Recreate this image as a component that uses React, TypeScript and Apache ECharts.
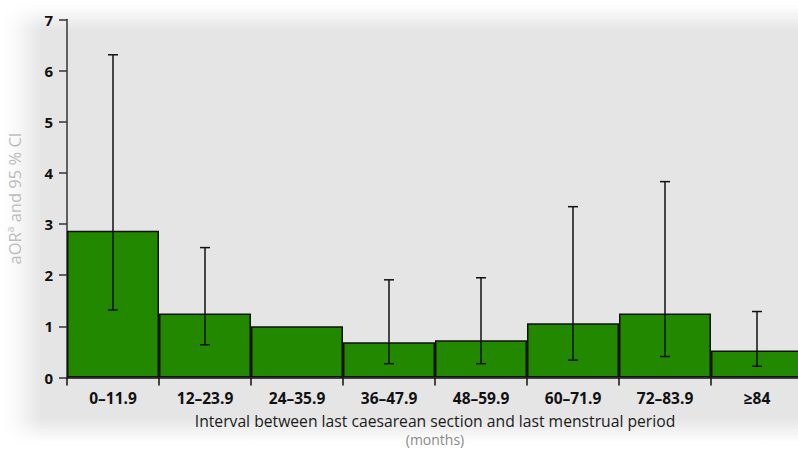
import React, { useEffect, useRef } from "react";
import * as echarts from "echarts";

// Interval categories (months) and adjusted odds ratios with 95 % CI
const categories = ["0–11.9", "12–23.9", "24–35.9", "36–47.9", "48–59.9", "60–71.9", "72–83.9", "≥84"];
const aor = [2.87, 1.25, 1.0, 0.69, 0.73, 1.06, 1.25, 0.53];
const ciLow: (number | null)[] = [1.32, 0.64, null, 0.27, 0.27, 0.34, 0.41, 0.22];
const ciHigh: (number | null)[] = [6.31, 2.54, null, 1.91, 1.95, 3.34, 3.83, 1.29];
const yTicks = [0, 1, 2, 3, 4, 5, 6, 7];

const FONT = "'Open Sans', 'Noto Sans', sans-serif";

export default function App() {
  const ref = useRef<HTMLDivElement>(null);

  useEffect(() => {
    if (!ref.current) return;
    const chart = echarts.init(ref.current, undefined, { renderer: "svg" });

    const errData = categories
      .map((_, i) => [i, ciLow[i], ciHigh[i]])
      .filter((d) => d[1] != null && d[2] != null);

    chart.setOption({
      animation: false,
      backgroundColor: "#e5e5e5",
      textStyle: { fontFamily: FONT },
      graphic: [
        {
          type: "rect",
          z: -10,
          silent: true,
          shape: { x: 0, y: 0, width: 798, height: 30 },
          style: {
            fill: new echarts.graphic.LinearGradient(0, 0, 0, 1, [
              { offset: 0, color: "rgba(255,255,255,1)" },
              { offset: 0.25, color: "rgba(255,255,255,0.9)" },
              { offset: 1, color: "rgba(255,255,255,0)" },
            ]),
          },
        },
        {
          type: "rect",
          z: -10,
          silent: true,
          shape: { x: 0, y: 0, width: 42, height: 450 },
          style: {
            fill: new echarts.graphic.LinearGradient(0, 0, 1, 0, [
              { offset: 0, color: "rgba(255,255,255,1)" },
              { offset: 0.3, color: "rgba(255,255,255,0.85)" },
              { offset: 1, color: "rgba(255,255,255,0)" },
            ]),
          },
        },
        {
          type: "rect",
          z: -10,
          silent: true,
          shape: { x: 0, y: 418, width: 798, height: 32 },
          style: {
            fill: new echarts.graphic.LinearGradient(0, 0, 0, 1, [
              { offset: 0, color: "rgba(255,255,255,0)" },
              { offset: 0.75, color: "rgba(255,255,255,0.95)" },
              { offset: 1, color: "rgba(255,255,255,1)" },
            ]),
          },
        },
      ],
      grid: {
        left: 67,
        top: 19.5,
        width: 736,
        height: 358,
        containLabel: false,
        outerBoundsMode: "none",
      },
      xAxis: {
        type: "category",
        data: categories,
        boundaryGap: true,
        axisLine: { show: true, lineStyle: { color: "#111", width: 1.5 } },
        axisTick: { show: true, alignWithLabel: false, length: 8, lineStyle: { color: "#111", width: 1.5 } },
        axisLabel: {
          color: "#111",
          fontSize: 15.5,
          fontWeight: "bold",
          fontFamily: FONT,
          margin: 12,
          interval: 0,
        },
        name:
          "{t|Interval between last caesarean section and last menstrual period}\n{m|(months)}",
        nameLocation: "middle",
        nameGap: 33,
        nameTextStyle: {
          rich: {
            t: { fontSize: 15.7, color: "#1a1a1a", fontFamily: FONT, lineHeight: 20 },
            m: { fontSize: 14, color: "#8a8a8a", fontFamily: FONT, lineHeight: 18 },
          },
        },
        splitLine: { show: false },
      },
      yAxis: {
        type: "value",
        min: 0,
        max: 7,
        interval: 1,
        axisLine: { show: true, lineStyle: { color: "#333", width: 1.5 } },
        axisTick: { show: true, length: 8, lineStyle: { color: "#333", width: 1.5 } },
        axisLabel: {
          color: "#111",
          fontSize: 15,
          fontWeight: "bold",
          fontFamily: FONT,
          margin: 14,
          formatter: (v: number) => (yTicks.includes(v) ? String(v) : ""),
        },
        splitLine: { show: false },
        name: "{n|aOR}{s|a}{n| and 95 % CI}",
        nameLocation: "middle",
        nameGap: 43,
        nameTextStyle: {
          rich: {
            n: { fontSize: 16.5, color: "#bdbdbd", fontFamily: FONT },
            s: { fontSize: 10, color: "#bdbdbd", fontFamily: FONT, verticalAlign: "top", padding: [0, 0, 9, 0] },
          },
        },
      },
      series: [
        {
          type: "bar",
          data: aor,
          barCategoryGap: "0%",
          barGap: "0%",
          itemStyle: { color: "#228800", borderColor: "#111", borderWidth: 1.5 },
          z: 2,
        },
        {
          type: "custom",
          z: 3,
          data: errData,
          encode: { x: 0, y: [1, 2] },
          renderItem: (_params: any, api: any) => {
            const i = api.value(0);
            const lo = api.coord([i, api.value(1)]);
            const hi = api.coord([i, api.value(2)]);
            const half = 5;
            const style = { stroke: "#111", lineWidth: 1.5, fill: "none" };
            return {
              type: "group",
              children: [
                { type: "line", shape: { x1: hi[0], y1: hi[1], x2: lo[0], y2: lo[1] }, style },
                { type: "line", shape: { x1: hi[0] - half, y1: hi[1], x2: hi[0] + half, y2: hi[1] }, style },
                { type: "line", shape: { x1: lo[0] - half, y1: lo[1], x2: lo[0] + half, y2: lo[1] }, style },
              ],
            };
          },
        },
      ],
    });

    return () => chart.dispose();
  }, []);

  return (
    <div
      ref={ref}
      style={{ position: "absolute", left: 0, top: 0, width: 798, height: 450 }}
    />
  );
}
